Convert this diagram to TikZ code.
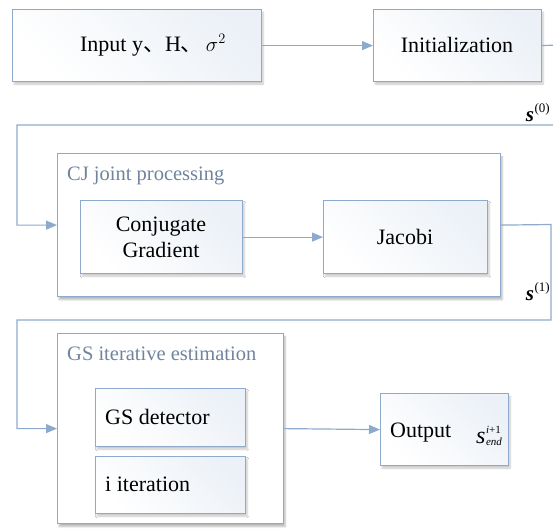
\documentclass[tikz,border=0pt]{standalone}
\usepackage{fontspec}
\setmainfont{Liberation Serif}
\newfontfamily\cjkfont{Noto Sans CJK SC}
\usetikzlibrary{arrows.meta,shadows.blur}
\definecolor{edgeblue}{RGB}{141,170,204}
\definecolor{labelgray}{RGB}{112,132,158}
\definecolor{fillblue}{RGB}{236,241,247}
\newcommand{\idxsize}{\fontsize{11}{11}\selectfont}
\tikzset{
  base/.style={draw=edgeblue, line width=1.2pt, rectangle, anchor=north west,
    inner sep=0pt, font=\fontsize{22}{26}\selectfont},
  stepbox/.style={base, left color=white, right color=fillblue, shading angle=135,
    blur shadow={shadow xshift=1.5pt, shadow yshift=-2.5pt, shadow blur steps=6, shadow opacity=22}},
  groupbox/.style={base, fill=white,
    blur shadow={shadow xshift=1.5pt, shadow yshift=-3pt, shadow blur steps=6, shadow opacity=28}},
  grouplabel/.style={anchor=west, text=labelgray, inner sep=0pt, font=\fontsize{20.5}{24}\selectfont},
  txt/.style={inner sep=0pt, font=\fontsize{22}{26}\selectfont},
  flow/.style={draw=edgeblue, line width=1.2pt, -{Triangle[length=11pt,width=9pt]}},
  sig/.style={inner sep=0pt, anchor=base east, font=\fontsize{21}{24}\selectfont}
}
\begin{document}
\begin{tikzpicture}[x=1pt,y=-1pt]
\useasboundingbox (0,0) rectangle (553,530);

% top row
\node[stepbox, minimum width=249pt, minimum height=72pt] (in) at (12,9) {};
\node[txt] (intext) at (153,45) {Input y{\cjkfont 、}H{\cjkfont 、}\hspace{3pt}$\mathit{\sigma}^{2}$};
\node[stepbox, minimum width=168pt, minimum height=72pt] (init) at (373,9) {};
\node[txt] (inittext) at (457,45) {Initialization};

% CJ joint processing group
\node[groupbox, minimum width=443pt, minimum height=143pt] (cj) at (57,153) {};
\node[grouplabel] (cjlab) at (67,176) {CJ joint processing};
\node[stepbox, minimum width=162pt, minimum height=73pt] (cg) at (80,200) {};
\node[txt, align=center] (cgtext) at (161,237) {Conjugate\\Gradient};
\node[stepbox, minimum width=164pt, minimum height=73pt] (jac) at (323,200) {};
\node[txt] (jactext) at (405,237) {Jacobi};

% GS iterative estimation group
\node[groupbox, minimum width=226pt, minimum height=190pt] (gs) at (57,333) {};
\node[grouplabel] (gslab) at (67,354) {GS iterative estimation};
\node[stepbox, minimum width=150pt, minimum height=58pt] (det) at (95,388) {};
\node[txt, anchor=west] (dettext) at (105,417) {GS detector};
\node[stepbox, minimum width=150pt, minimum height=57pt] (iter) at (95,456) {};
\node[txt, anchor=west] (itertext) at (105,484) {i iteration};

% output
\node[stepbox, minimum width=128pt, minimum height=72pt] (out) at (380,393) {};
\node[txt, anchor=base west] (outtext) at (390,437) {Output};
\node[inner sep=0pt, anchor=base west, font=\fontsize{24}{26}\selectfont] (outsym) at (476,443)
  {\textit{s}\hspace{0.5pt}\raisebox{-2pt}{\rlap{\idxsize\textit{end}}}\raisebox{10pt}{\idxsize\textit{i}+1}};

% signal labels
\node[sig] (s0) at (550,121) {\textbf{\textit{s}}\hspace{0.5pt}\raisebox{9pt}{\fontsize{13}{14}\selectfont(0)}};
\node[sig] (s1) at (550,300) {\textbf{\textit{s}}\hspace{0.5pt}\raisebox{9pt}{\fontsize{13}{14}\selectfont(1)}};

% connectors
\coordinate (r0) at (557,45);
\coordinate (r0b) at (557,125);
\coordinate (l0) at (17,125);
\coordinate (r1) at (551,224.5);
\coordinate (r1b) at (551,320);
\coordinate (l1) at (17,320);

\draw[flow] (in) -- (init);
\draw[flow] (init.east) -- (r0) -- (r0b) -- (l0) |- (cj.west);
\draw[flow] (cg) -- (jac);
\draw[flow] (cj.east) -- (r1) -- (r1b) -- (l1) |- (gs.west);
\draw[flow] (gs.east) -- (out.west);
\end{tikzpicture}
\end{document}
